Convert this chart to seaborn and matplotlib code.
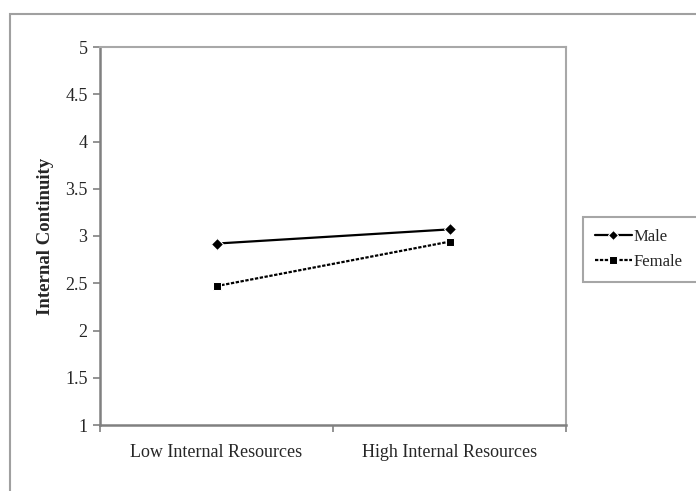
import matplotlib
matplotlib.use("Agg")
import matplotlib.pyplot as plt
import matplotlib.patches as patches
from matplotlib.ticker import FuncFormatter
import seaborn as sns
import pandas as pd

categories = ["Low Internal Resources", "High Internal Resources"]
male = [2.92, 3.07]
female = [2.47, 2.94]
y_ticks = [1, 1.5, 2, 2.5, 3, 3.5, 4, 4.5, 5]

df = pd.DataFrame({
    "resources": categories + categories,
    "score": male + female,
    "gender": ["Male"] * 2 + ["Female"] * 2,
})

sns.set_style("white")
plt.rcParams["font.family"] = ["Liberation Serif", "DejaVu Serif"]

fig = plt.figure(figsize=(6.96, 4.91), dpi=100)
ax = fig.add_axes([100 / 696, 1 - 425 / 491, 466 / 696, 378 / 491])

# outer frame of the chart area (cut off on right and bottom)
fig.patches.append(patches.Rectangle((10 / 696, -0.1), 1.2, 1 - 14 / 491 + 0.1,
                                     transform=fig.transFigure, fill=False,
                                     edgecolor="#a0a0a0", linewidth=1.5))

sns.lineplot(data=df, x="resources", y="score", style="gender",
             markers={"Male": "D", "Female": "s"},
             dashes={"Male": "", "Female": (1.5, 0.7)},
             color="black", linewidth=1.6, markersize=6, ax=ax, sort=False)

ax.set_xlim(-0.5, 1.5)
ax.set_ylim(1, 5)
ax.set_yticks(y_ticks)
ax.yaxis.set_major_formatter(FuncFormatter(lambda v, p: f"{v:g}"))
ax.set_xticks([0, 1])
ax.set_xticklabels(categories)
ax.set_xticks([-0.5, 0.5, 1.5], minor=True)
ax.tick_params(axis="x", which="major", length=0, labelsize=13, pad=14)
ax.tick_params(axis="x", which="minor", length=5, width=1.2, color="#808080", bottom=True)
ax.tick_params(axis="y", length=5, width=1.2, color="#808080", labelsize=13, left=True, pad=4)
ax.set_xlabel("")
ax.set_ylabel("Internal Continuity", fontsize=13.5, fontweight="bold", labelpad=8)

for side in ["left", "bottom"]:
    ax.spines[side].set_color("#808080")
    ax.spines[side].set_linewidth(1.8)
for side in ["top", "right"]:
    ax.spines[side].set_color("#a8a8a8")
    ax.spines[side].set_linewidth(1.5)

handles, labels = ax.get_legend_handles_labels()
leg = ax.legend(handles, labels, loc="upper left", mode="expand",
                bbox_to_anchor=(575 / 696, 1 - 214 / 491, 0.3, 0.01),
                bbox_transform=fig.transFigure, frameon=True, fancybox=False,
                fontsize=12, handlelength=2.2, handletextpad=0.1, borderpad=0.7,
                labelspacing=0.55, markerscale=0.9)
leg.get_frame().set_edgecolor("#909090")
leg.get_frame().set_linewidth(1.5)

fig.savefig("out.png", dpi=100)
